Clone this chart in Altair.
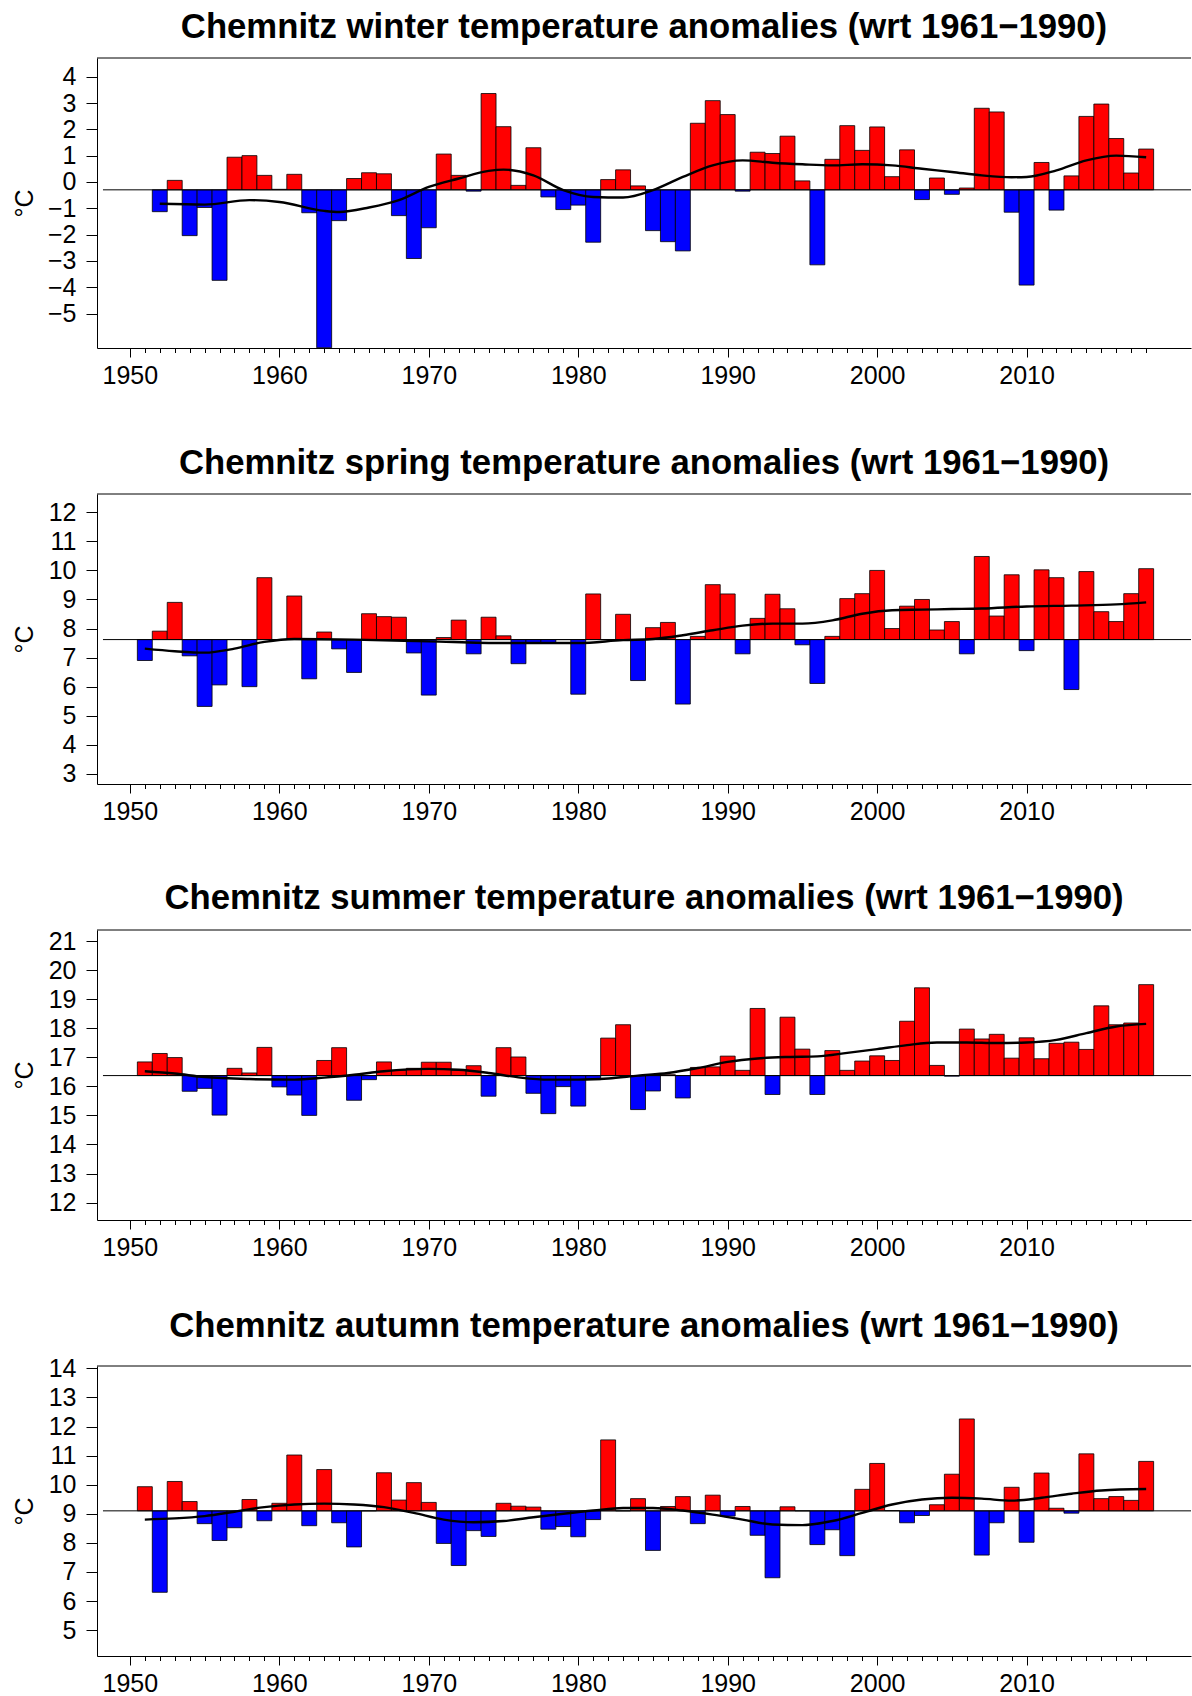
import altair as alt
import pandas as pd

FONT = "Liberation Sans"
W, H = 1094, 290
XDOM = [1947.8, 2021.0]

# ---------------- data ----------------
winter_years = list(range(1952, 2019))
winter_vals = [
    -1.13, 0.06, -2.04, -0.97, -3.74, 0.94, 1.00, 0.25, -0.28,          # 1952-1960
    0.29, -1.17, -6.30, -1.47, 0.13, 0.35, 0.31, -1.28, -2.91, -1.74,   # 1961-1970
    1.06, 0.25, -0.35, 3.36, 2.10, -0.13, 1.30, -0.57, -1.05, -0.88,    # 1971-1980
    -2.29, 0.09, 0.46, -0.15, -1.85, -2.27, -2.62, 2.23, 3.09, 2.56,    # 1981-1990
    -0.35, 1.13, 1.08, 1.74, 0.04, -3.15, 0.86, 2.14, 1.20, 2.09,       # 1991-2000
    0.20, 1.22, -0.67, 0.15, -0.47, -0.23, 2.80, 2.66, -1.15, -3.92,    # 2001-2010
    0.74, -1.07, 0.23, 2.49, 2.96, 1.65, 0.34, 1.25,                    # 2011-2018
]
winter_base = -0.30
winter_sm_years = [1952, 1955, 1958, 1960, 1963, 1964, 1966, 1968, 1970, 1972, 1974, 1975,
                   1977, 1979, 1981, 1983, 1985, 1987, 1989, 1991, 1993, 1995, 1997, 1999,
                   2001, 2003, 2005, 2007, 2009, 2010, 2012, 2014, 2016, 2018]
winter_sm_vals = [-0.83, -0.86, -0.69, -0.76, -1.10, -1.14, -0.97, -0.69, -0.19, 0.13, 0.42, 0.47,
                  0.25, -0.31, -0.57, -0.59, -0.31, 0.19, 0.63, 0.82, 0.73, 0.67, 0.63, 0.67,
                  0.63, 0.50, 0.38, 0.25, 0.18, 0.19, 0.44, 0.82, 1.00, 0.94]

spring_years = list(range(1951, 2019))
spring_vals = [
    6.90, 7.91, 8.90, 7.06, 5.32, 6.06, 7.62, 6.00, 9.75, 7.62,         # 1951-1960
    9.12, 6.27, 7.88, 7.30, 6.49, 8.51, 8.41, 8.39, 7.16, 5.71,         # 1961-1970
    7.69, 8.29, 7.13, 8.39, 7.75, 6.79, 7.50, 7.50, 7.62, 5.74,         # 1971-1980
    9.19, 7.62, 8.49, 6.21, 8.03, 8.21, 5.40, 7.73, 9.51, 9.19,         # 1981-1990
    7.13, 8.35, 9.18, 8.68, 7.44, 6.11, 7.73, 9.03, 9.20, 10.00,        # 1991-2000
    8.00, 8.77, 9.00, 7.95, 8.24, 7.13, 10.48, 8.43, 9.85, 7.24,        # 2001-2010
    10.02, 9.75, 5.90, 9.96, 8.58, 8.24, 9.20, 10.06,                   # 2011-2018
]
spring_base = 7.62
spring_sm_years = [1951, 1953, 1955, 1957, 1959, 1961, 1965, 1970, 1975, 1980, 1983, 1985,
                   1987, 1989, 1991, 1993, 1995, 1997, 1999, 2001, 2003, 2005, 2007, 2010,
                   2013, 2016, 2018]
spring_sm_vals = [7.31, 7.22, 7.17, 7.31, 7.54, 7.64, 7.62, 7.56, 7.50, 7.50, 7.60, 7.64,
                  7.77, 7.94, 8.10, 8.17, 8.17, 8.28, 8.51, 8.63, 8.65, 8.67, 8.69, 8.76,
                  8.79, 8.83, 8.90]

summer_years = list(range(1951, 2019))
summer_vals = [
    16.84, 17.13, 16.99, 15.83, 15.93, 15.01, 16.62, 16.46, 17.34, 15.98,   # 1951-1960
    15.70, 15.00, 16.89, 17.33, 15.52, 16.23, 16.84, 16.55, 16.62, 16.83,   # 1961-1970
    16.83, 16.55, 16.71, 15.66, 17.33, 17.01, 15.76, 15.06, 15.99, 15.32,   # 1971-1980
    16.23, 17.66, 18.12, 15.20, 15.84, 16.40, 15.60, 16.65, 16.67, 17.04,   # 1981-1990
    16.55, 18.68, 15.72, 18.38, 17.28, 15.72, 17.23, 16.55, 16.87, 17.05,   # 1991-2000
    16.89, 18.24, 19.39, 16.72, 16.35, 17.97, 17.63, 17.79, 16.97, 17.67,   # 2001-2010
    16.95, 17.48, 17.52, 17.27, 18.77, 18.12, 18.18, 19.50,                 # 2011-2018
]
summer_base = 16.37
summer_sm_years = [1951, 1953, 1955, 1958, 1961, 1963, 1965, 1967, 1970, 1972, 1974, 1976,
                   1978, 1980, 1982, 1984, 1986, 1988, 1990, 1992, 1994, 1996, 1998, 2000,
                   2002, 2004, 2006, 2008, 2010, 2012, 2014, 2016, 2018]
summer_sm_vals = [16.52, 16.44, 16.32, 16.25, 16.23, 16.30, 16.40, 16.52, 16.60, 16.57, 16.46, 16.31,
                  16.23, 16.23, 16.27, 16.37, 16.46, 16.63, 16.84, 16.96, 17.01, 17.03, 17.15, 17.28,
                  17.42, 17.51, 17.51, 17.49, 17.51, 17.60, 17.83, 18.06, 18.15]

autumn_years = list(range(1951, 2019))
autumn_vals = [
    9.93, 6.30, 10.11, 9.42, 8.66, 8.08, 8.52, 9.49, 8.76, 9.36,        # 1951-1960
    11.02, 8.59, 10.52, 8.69, 7.86, 9.10, 10.41, 9.47, 10.07, 9.39,     # 1961-1970
    7.98, 7.22, 8.42, 8.22, 9.36, 9.26, 9.23, 8.47, 8.56, 8.21,         # 1971-1980
    8.80, 11.54, 9.10, 9.52, 7.74, 9.25, 9.59, 8.66, 9.64, 8.92,        # 1981-1990
    9.25, 8.26, 6.80, 9.24, 9.10, 7.94, 8.45, 7.56, 9.84, 10.73,        # 1991-2000
    9.11, 8.69, 8.94, 9.31, 10.36, 12.26, 7.58, 8.69, 9.91, 8.02,       # 2001-2010
    10.40, 9.19, 9.02, 11.06, 9.52, 9.59, 9.46, 10.80,                  # 2011-2018
]
autumn_base = 9.10
autumn_sm_years = [1951, 1953, 1955, 1957, 1959, 1961, 1963, 1965, 1967, 1969, 1971, 1973,
                   1975, 1977, 1979, 1981, 1983, 1985, 1987, 1989, 1991, 1993, 1995, 1997,
                   1999, 2001, 2003, 2005, 2007, 2009, 2011, 2013, 2015, 2018]
autumn_sm_vals = [8.80, 8.84, 8.92, 9.07, 9.23, 9.32, 9.35, 9.32, 9.23, 9.03, 8.80, 8.71,
                  8.75, 8.88, 9.00, 9.11, 9.20, 9.20, 9.11, 8.97, 8.80, 8.63, 8.61, 8.75,
                  9.03, 9.32, 9.49, 9.55, 9.52, 9.45, 9.55, 9.69, 9.80, 9.85]

x_tick_years = list(range(1950, 2019))
baseline_start = 1948.2


def panel(title, years, vals, base, sm_years, sm_vals, ydom, yticks):
    bars_df = pd.DataFrame({"year": years, "value": vals})
    bars_df["base"] = base
    sm_df = pd.DataFrame({"year": sm_years, "value": sm_vals})
    base_df = pd.DataFrame({"xa": [baseline_start], "xb": [XDOM[1]], "y": [base]})
    frame_df = pd.DataFrame({"k": [0]})

    xscale = alt.Scale(domain=XDOM, nice=False, zero=False)
    yscale = alt.Scale(domain=ydom, nice=False, zero=False)

    xaxis = alt.Axis(
        values=x_tick_years, format="d", title=None, grid=False,
        labelExpr="datum.value % 10 === 0 ? datum.label : ''",
        tickSize={"condition": {"test": "datum.value % 10 === 0", "value": 9}, "value": 4.5},
        tickColor="black", tickWidth=1, domainColor="black", domainWidth=1,
        labelFont=FONT, labelFontSize=25, labelColor="black", labelPadding=6,
        labelOverlap=False, labelFlush=False,
    )
    yaxis = alt.Axis(
        values=yticks, format="d", title="°C", grid=False,
        tickSize=11, tickColor="black", tickWidth=1, domainColor="black", domainWidth=1,
        labelFont=FONT, labelFontSize=25, labelColor="black", labelPadding=10,
        labelOverlap=False, labelFlush=False,
        titleFont=FONT, titleFontSize=25, titleFontWeight="normal", titleColor="black",
        titleX=-60,
    )

    bars = alt.Chart(bars_df).transform_calculate(
        x0="datum.year - 0.5", x1="datum.year + 0.5"
    ).mark_bar(stroke="black", strokeWidth=0.8, clip=True).encode(
        x=alt.X("x0:Q", scale=xscale, axis=xaxis),
        x2="x1:Q",
        y=alt.Y("value:Q", scale=yscale, axis=yaxis),
        y2="base:Q",
        color=alt.condition("datum.value > datum.base", alt.value("#FF0000"), alt.value("#0000FF")),
    )
    baseline = alt.Chart(base_df).mark_rule(color="black", strokeWidth=1).encode(
        x=alt.X("xa:Q", scale=xscale, axis=xaxis),
        x2="xb:Q",
        y=alt.Y("y:Q", scale=yscale, axis=yaxis),
    )
    smooth = alt.Chart(sm_df).mark_line(color="black", strokeWidth=2.4, interpolate="monotone").encode(
        x=alt.X("year:Q", scale=xscale, axis=xaxis),
        y=alt.Y("value:Q", scale=yscale, axis=yaxis),
    )
    top = alt.Chart(frame_df).mark_rule(color="black", strokeWidth=1).encode(
        x=alt.value(0), x2=alt.value(W), y=alt.value(0)
    )
    return alt.layer(bars, baseline, smooth, top).properties(
        width=W, height=H,
        title=alt.TitleParams(text=title, font=FONT, fontSize=34.7, fontWeight="bold",
                              color="black", anchor="middle", offset=12),
    )


p1 = panel("Chemnitz winter temperature anomalies (wrt 1961\u22121990)", winter_years, winter_vals,
           winter_base, winter_sm_years, winter_sm_vals, [-6.31, 4.71], list(range(-5, 5)))
p2 = panel("Chemnitz spring temperature anomalies (wrt 1961\u22121990)", spring_years, spring_vals,
           spring_base, spring_sm_years, spring_sm_vals, [2.65, 12.63], list(range(3, 13)))
p3 = panel("Chemnitz summer temperature anomalies (wrt 1961\u22121990)", summer_years, summer_vals,
           summer_base, summer_sm_years, summer_sm_vals, [11.40, 21.38], list(range(12, 22)))
p4 = panel("Chemnitz autumn temperature anomalies (wrt 1961\u22121990)", autumn_years, autumn_vals,
           autumn_base, autumn_sm_years, autumn_sm_vals, [4.11, 14.08], list(range(5, 15)))

chart = alt.vconcat(p1, p2, p3, p4, spacing=146, bounds="flush").properties(
    padding={"left": 12, "top": 9, "right": 0, "bottom": 0},
    background="white",
).configure_view(strokeOpacity=0)

chart.save("out.html", embed_options={"renderer": "svg", "actions": False})
